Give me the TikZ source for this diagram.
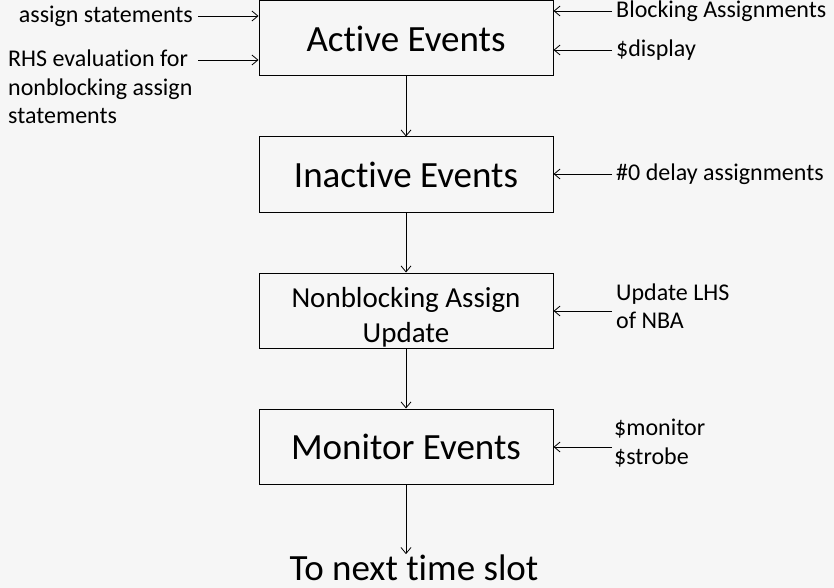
\documentclass[tikz,border=0pt]{standalone}
\usepackage{fontspec}
\setmainfont{Carlito}[Ligatures=NoCommon]
\usetikzlibrary{arrows.meta}
\definecolor{paper}{RGB}{246,246,246}
\begin{document}
\begin{tikzpicture}[x=1pt, y=-1pt,
  eventbox/.style={draw, line width=1pt, minimum width=294pt, minimum height=75pt,
    inner sep=0pt, font=\fontsize{37}{42}\selectfont},
  note/.style={inner sep=0pt, align=left, font=\fontsize{24}{28.5}\selectfont},
  feed/.style={-{Straight Barb[length=6pt, width=10pt]}, line width=0.8pt}]
  \def \boxx{406};
  \def \leftin{198};
  \def \rightin{612};

  % Draw the paper.
  \fill[paper] (0, 0) rectangle (834, 588);

  % Draw event boxes.
  \node[eventbox] (active) at (\boxx, 38.5) {Active Events};
  \node[eventbox] (inactive) at (\boxx, 174.5) {Inactive Events};
  \node[eventbox, align=center, font=\fontsize{29}{35}\selectfont] (nba) at (\boxx, 310.5) {\rule{0pt}{34pt}Nonblocking Assign\\Update};
  \node[eventbox] (monitor) at (\boxx, 446.5) {Monitor Events};
  \node[inner sep=0pt, font=\fontsize{37}{42}\selectfont, anchor=base] (next) at (414, 580) {To next time slot};

  % Draw labels on the sides.
  \node[note, anchor=east] (assign) at (193, 16) {assign statements};
  \node[note, anchor=north west] (rhs) at (8, 50) {RHS evaluation for\\nonblocking assign\\statements};
  \node[note, anchor=west] (blocking) at (616, 11) {Blocking Assignments};
  \node[note, anchor=west] (display) at (616, 50) {\$display};
  \node[note, anchor=west] (delay) at (616, 174) {\#0 delay assignments};
  \node[note, anchor=west] (lhs) at (616, 306) {Update LHS\\of NBA};
  \node[note, anchor=west] (strobe) at (614, 443) {\$monitor\\\$strobe};

  % Draw arrows into the boxes.
  \coordinate (rhsout) at (\leftin, 60);
  \draw[feed] (assign.east) ++(5, 0) -- (assign -| active.west);
  \draw[feed] (rhsout) -- (rhsout -| active.west);
  \foreach \n/\b in {blocking/active, display/active, delay/inactive} {
    \draw[feed] (\n.west) ++(-4, 0) -- (\n -| \b.east);
  };
  \coordinate (lhsout) at (\rightin, 311);
  \coordinate (strobeout) at (\rightin, 447);
  \draw[feed] (lhsout) -- (lhsout -| nba.east);
  \draw[feed] (strobeout) -- (strobeout -| monitor.east);

  % Draw arrows down the time slot.
  \foreach \a/\b in {active/inactive, inactive/nba, nba/monitor} {
    \draw[feed] (\a.south) -- (\b.north);
  };
  \draw[feed] (monitor.south) -- (monitor.south |- next.north);
\end{tikzpicture}
\end{document}
